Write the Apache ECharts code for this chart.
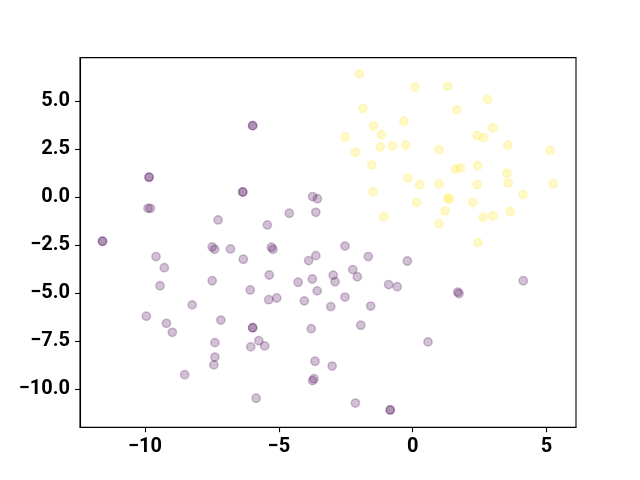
<!DOCTYPE html>
<html>
<head>
<meta charset="utf-8">
<script src="https://cdn.jsdelivr.net/npm/echarts@6/dist/echarts.min.js"></script>
<style>html,body{margin:0;padding:0;background:#fff}#c{width:640px;height:480px}</style>
</head>
<body>
<div id="c"></div>
<script>
// cluster 0 (purple)
var purplePoints = [
  [-9.85, 1.04], [-9.85, 1.04], [-5.98, 3.73], [-5.98, 3.73], [-0.2, -3.33], [4.13, -4.36],
  [-0.58, -4.67], [1.68, -4.95], [1.73, -5.03], [-6.35, 0.27], [-6.35, 0.27], [-3.74, 0.03],
  [-3.56, -0.08], [-4.61, -0.84], [-3.62, -0.79], [-5.43, -1.45], [-5.28, -2.61], [-5.22, -2.72],
  [-6.33, -3.24], [-2.53, -2.55], [-1.66, -3.10], [-3.62, -3.05], [-3.89, -3.31], [-5.36, -4.06],
  [-2.24, -3.78], [-2.07, -4.15], [-2.97, -4.07], [-2.90, -4.41], [-6.07, -4.84], [-4.28, -4.44],
  [-3.75, -4.27], [-3.57, -4.89], [-0.90, -4.56], [-5.38, -5.35], [-5.08, -5.26], [-4.05, -5.41],
  [-2.53, -5.21], [-3.06, -5.71], [-1.57, -5.68], [-5.98, -6.81], [-5.98, -6.81], [-3.79, -6.86],
  [-1.94, -6.68], [-5.75, -7.49], [-6.05, -7.81], [-5.53, -7.76], [-3.65, -8.56], [-3.01, -8.81],
  [-3.69, -9.47], [-3.74, -9.57], [-5.85, -10.49], [-2.14, -10.74], [-0.84, -11.10], [-0.84, -11.10],
  [0.57, -7.55], [-9.89, -0.58], [-9.80, -0.58], [-7.27, -1.19], [-11.59, -2.30], [-11.59, -2.30],
  [-7.49, -2.60], [-7.40, -2.72], [-6.81, -2.70], [-9.59, -3.10], [-9.28, -3.68], [-9.44, -4.62],
  [-7.49, -4.36], [-8.24, -5.62], [-9.95, -6.21], [-9.20, -6.58], [-8.98, -7.05], [-7.17, -6.41],
  [-7.39, -7.59], [-7.39, -8.34], [-7.43, -8.75], [-8.52, -9.26]
];
// cluster 1 (yellow)
var yellowPoints = [
  [-2.0, 6.43], [-1.86, 4.62], [-1.46, 3.71], [-0.33, 3.96], [-1.17, 3.26], [-2.52, 3.14],
  [-1.21, 2.62], [-0.75, 2.67], [-0.26, 2.72], [-2.14, 2.34], [-1.53, 1.68], [-0.18, 1.0],
  [0.09, 5.75], [1.31, 5.78], [2.79, 5.1], [1.65, 4.55], [2.99, 3.61], [2.40, 3.21],
  [2.65, 3.10], [0.98, 2.48], [3.55, 2.71], [5.13, 2.45], [1.59, 1.46], [1.78, 1.52],
  [2.43, 1.64], [3.52, 1.25], [0.26, 0.65], [0.99, 0.69], [2.40, 0.65], [3.57, 0.74],
  [5.25, 0.70], [4.12, 0.13], [0.15, -0.27], [1.31, -0.04], [1.37, -0.11], [2.25, -0.27],
  [3.65, -0.74], [1.21, -0.72], [2.63, -1.05], [2.99, -0.98], [0.98, -1.38], [2.44, -2.37],
  [-1.49, 0.29], [-1.08, -1.02]
];
var xTicks = [-10, -5, 0, 5];
var yTicks = [-10, -7.5, -5, -2.5, 0, 2.5, 5];
var xRange = [-12.43, 6.1];
var yRange = [-12.0, 7.28];

function fmtX(v) { return (v < 0 ? '\u2212' : '') + Math.abs(v).toString(); }
function fmtY(v) { return (v < 0 ? '\u2212' : '') + Math.abs(v).toFixed(1); }

var purple = 'rgba(68,1,84,0.3)';
var yellow = 'rgba(253,231,37,0.3)';
var labelStyle = { color: '#000', fontFamily: 'Roboto', fontWeight: 'bold', fontSize: 20 };
var axisLineStyle = { show: true, onZero: false, lineStyle: { color: '#000', width: 1.1 } };

var chart = echarts.init(document.getElementById('c'), null, { renderer: 'canvas' });
chart.setOption({
  animation: false,
  backgroundColor: '#fff',
  grid: { left: 80, right: 64, top: 57.6, bottom: 52.8, show: true, borderColor: '#000', borderWidth: 1.1, backgroundColor: 'transparent' },
  xAxis: {
    type: 'value', min: xRange[0], max: xRange[1],
    splitLine: { show: false },
    axisLine: axisLineStyle,
    axisTick: { show: true, length: 5, lineStyle: { color: '#000', width: 1.1 }, customValues: xTicks },
    axisLabel: Object.assign({ margin: 10, customValues: xTicks, formatter: fmtX }, labelStyle)
  },
  yAxis: {
    type: 'value', min: yRange[0], max: yRange[1],
    splitLine: { show: false },
    axisLine: axisLineStyle,
    axisTick: { show: true, length: 5, lineStyle: { color: '#000', width: 1.1 }, customValues: yTicks },
    axisLabel: Object.assign({ margin: 10, padding: [3, 0, 0, 0], customValues: yTicks, formatter: fmtY }, labelStyle)
  },
  series: [
    {
      type: 'scatter', data: purplePoints, symbol: 'circle', symbolSize: 8.3,
      itemStyle: { color: purple, borderColor: purple, borderWidth: 1.5 }
    },
    {
      type: 'scatter', data: yellowPoints, symbol: 'circle', symbolSize: 8.3,
      itemStyle: { color: yellow, borderColor: yellow, borderWidth: 1.5 }
    }
  ]
});
</script>
</body>
</html>
